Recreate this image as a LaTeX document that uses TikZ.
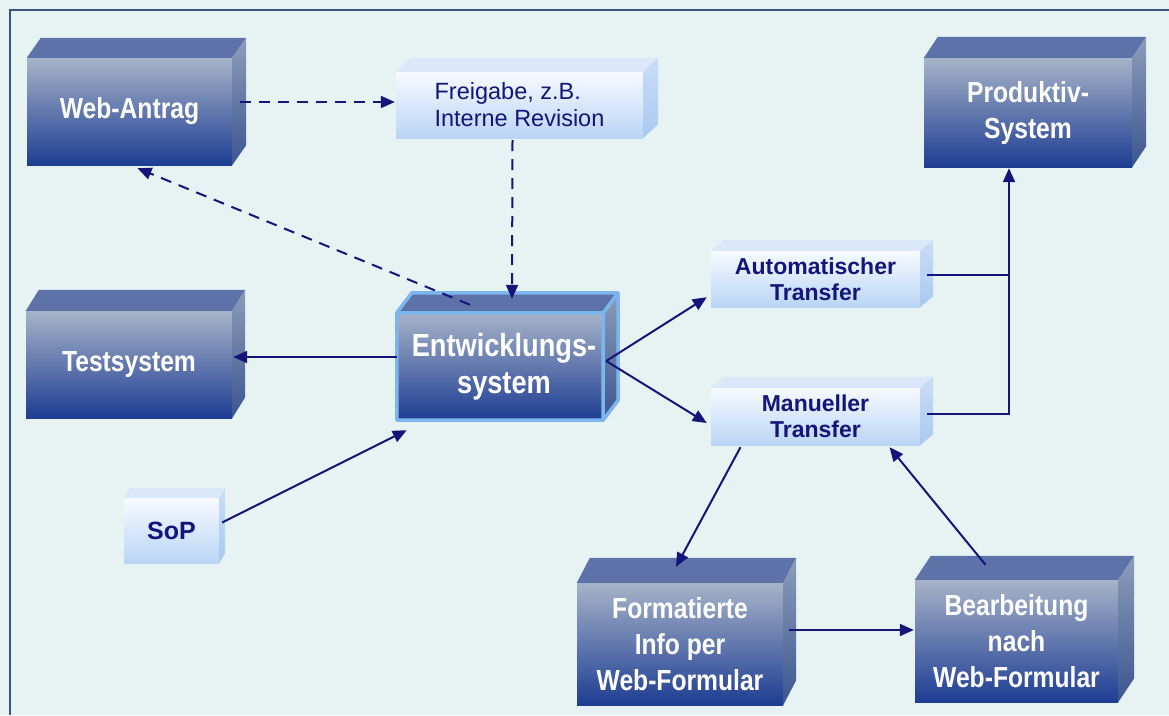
\documentclass[tikz,border=0pt]{standalone}
\usepackage{fontspec}
\setmainfont{Liberation Sans}
\newfontfamily\cubefont[FakeStretch=0.85]{Liberation Sans}
\usetikzlibrary{arrows.meta,calc}

\definecolor{paper}{HTML}{E7F3F3}
\definecolor{framec}{HTML}{3A5286}
\definecolor{navy}{HTML}{14147A}
\definecolor{dkfronttop}{HTML}{A6B3C8}
\definecolor{dkfrontbot}{HTML}{1E3D93}
\definecolor{dktopc}{HTML}{5C72A9}
\definecolor{dksidetop}{HTML}{8D9DB9}
\definecolor{dksidebot}{HTML}{3B5590}
\definecolor{ltfronttop}{HTML}{F7FAFF}
\definecolor{ltfrontbot}{HTML}{B9D5F5}
\definecolor{lttopc}{HTML}{DAE8FA}
\definecolor{ltsidetop}{HTML}{C9DDF7}
\definecolor{ltsidebot}{HTML}{A9C9F0}
\definecolor{glowc}{HTML}{7DB6EE}

% top and side face of a box node: name, dx, dy, dark/light
\newcommand{\cubefaces}[4]{%
  \fill[#4top] (#1.north west) -- ++(#2,#3) -- ($(#1.north east)+(#2,#3)$) -- (#1.north east) -- cycle;
  \shade[#4side] (#1.north east) -- ++(#2,#3) -- ($(#1.south east)+(#2,#3)$) -- (#1.south east) -- cycle;
}

\begin{document}
\begin{tikzpicture}[x=1pt, y=-1pt,
  darkbox/.style={rectangle, inner sep=0pt, top color=dkfronttop, bottom color=dkfrontbot,
    text=white, align=center, font=\cubefont\bfseries\fontsize{29}{36}\selectfont},
  lightbox/.style={rectangle, inner sep=0pt, top color=ltfronttop, bottom color=ltfrontbot,
    text=navy, align=center, font=\bfseries\fontsize{23}{26}\selectfont},
  darktop/.style={fill=dktopc},
  darkside/.style={top color=dksidetop, bottom color=dksidebot},
  lighttop/.style={fill=lttopc},
  lightside/.style={top color=ltsidetop, bottom color=ltsidebot},
  link/.style={draw=navy, line width=2pt},
  arrow/.style={link, -{Triangle[length=14pt,width=12pt]}},
  dasharrow/.style={arrow, dash pattern=on 11pt off 8pt}]

\useasboundingbox (0,0) rectangle (1169,715);
\fill[paper] (0,0) rectangle (1169,715);
\draw[framec, line width=2.5pt] (10,715) -- (10,10) -- (1169,10);

% boxes
\node[darkbox, minimum width=205pt, minimum height=107pt] (web) at (129.5,111.5) {Web-Antrag};
\node[lightbox, minimum width=247pt, minimum height=66pt, align=left,
  font=\fontsize{23.5}{27}\selectfont] (frei) at (519.5,105) {Freigabe, z.B.\\Interne Revision};
\node[darkbox, minimum width=208pt, minimum height=109pt] (prod) at (1028,112.5) {Produktiv-\\System};
\node[darkbox, minimum width=206pt, minimum height=107pt] (test) at (129,364.5) {Testsystem};
\node[darkbox, minimum width=206pt, minimum height=107pt,
  font=\cubefont\bfseries\fontsize{32}{37}\selectfont] (entw) at (500,366.5) {\hspace*{8pt}Entwicklungs-\\\hspace*{8pt}system};
\node[lightbox, minimum width=209pt, minimum height=56pt] (auto) at (815.5,279) {Automatischer\\Transfer};
\node[lightbox, minimum width=209pt, minimum height=57pt] (manu) at (815.5,416.5) {Manueller\\Transfer};
\node[lightbox, minimum width=95pt, minimum height=65pt,
  font=\bfseries\fontsize{25}{28}\selectfont] (sop) at (171.5,530.5) {SoP};
\node[darkbox, minimum width=206pt, minimum height=122pt] (form) at (680,644) {Formatierte\\Info per\\Web-Formular};
\node[darkbox, minimum width=203pt, minimum height=122pt] (bear) at (1016.5,641) {Bearbeitung\\nach\\Web-Formular};

\cubefaces{web}{14}{-20}{dark}
\cubefaces{frei}{15}{-14}{light}
\cubefaces{prod}{14}{-21}{dark}
\cubefaces{test}{13}{-21}{dark}
\cubefaces{entw}{15}{-20}{dark}
\cubefaces{auto}{13}{-11}{light}
\cubefaces{manu}{13}{-11}{light}
\cubefaces{sop}{6}{-10}{light}
\cubefaces{form}{13}{-25}{dark}
\cubefaces{bear}{16}{-24}{dark}

% outline of the central box
\draw[glowc, line width=3.5pt, line join=round]
  (entw.south west) -- (entw.north west) -- ++(15,-20) -- ($(entw.north east)+(15,-20)$)
  -- ($(entw.south east)+(15,-20)$) -- (entw.south east) -- cycle
  (entw.north west) -- (entw.north east) -- ++(15,-20)
  (entw.north east) -- (entw.south east);

% connectors
\draw[dasharrow] ($(web.east |- frei.west)+(8,-3)$) -- ($(frei.west)+(-1,-3)$);
\draw[dasharrow] ($(frei.south)+(-7,2)$) -- ($(entw.north)+(12,-14)$);
\draw[dasharrow] ($(entw.north)+(-30,-8)$) -- ($(web.south)+(8,3)$);
\draw[arrow] ($(entw.west)+(0,-9.5)$) -- ($(test.east)+(1,-7.5)$);
\draw[arrow] ($(sop.east)+(3,-8)$) -- ($(entw.south west)+(10,10)$);
\coordinate (fork) at ($(entw.east)+(3,-5.5)$);
\draw[arrow] (fork) -- ($(auto.south west)+(-4,-10)$);
\draw[arrow] (fork) -- ($(manu.west)+(-4,6.5)$);
\coordinate (join) at ($(prod.south |- auto.east)+(-19,-4)$);
\draw[link] ($(auto.east)+(7,-4)$) -- (join);
\draw[arrow] ($(manu.east)+(7,-2.5)$) -| ($(prod.south)+(-19,1)$);
\draw[arrow] ($(manu.south)+(-75,2)$) -- ($(form.north)+(-4,-16)$);
\draw[arrow] ($(bear.north)+(-31,-15)$) -- ($(manu.south)+(74,2)$);
\draw[arrow] ($(form.east)+(6,-14)$) -- ($(bear.west)+(-1,-11)$);

\end{tikzpicture}
\end{document}
